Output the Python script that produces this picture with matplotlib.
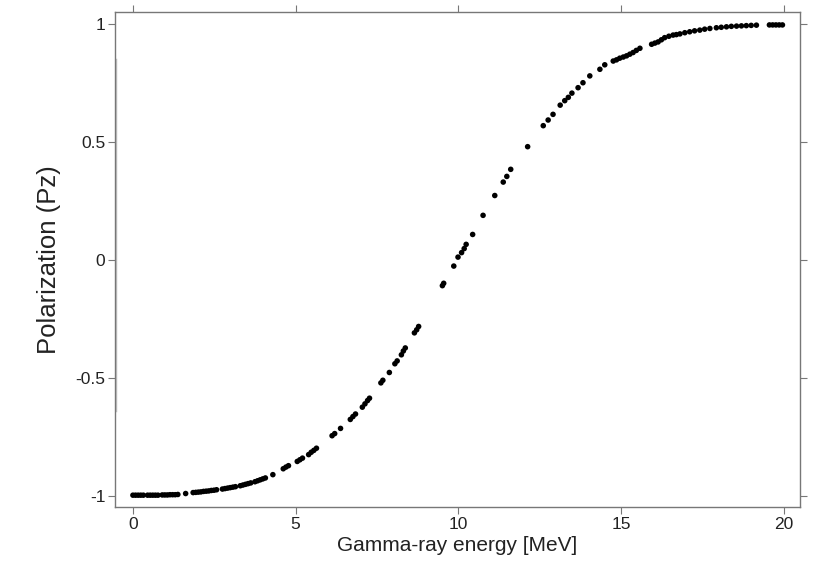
import matplotlib
matplotlib.use("Agg")
import matplotlib.pyplot as plt

plt.rcParams.update(
    {
        "font.family": ["Liberation Sans", "DejaVu Sans"],
        "font.size": 12,
    }
)

# Gamma-ray energy [MeV] and polarization Pz
energy = [
    0.00, 0.08, 0.16, 0.24, 0.32, 0.45, 0.53, 0.61, 0.69, 0.77,
    0.90, 0.98, 1.06, 1.14, 1.22, 1.30, 1.38, 1.62,
    1.85, 1.93, 2.01, 2.09, 2.17, 2.25, 2.33, 2.41, 2.49, 2.57,
    2.75, 2.83, 2.91, 2.99, 3.07, 3.15, 3.30, 3.38, 3.46, 3.54, 3.62,
    3.75, 3.83, 3.91, 3.99, 4.07, 4.30, 4.62, 4.70, 4.78,
    5.05, 5.13, 5.21, 5.40, 5.48, 5.56, 5.64, 6.12, 6.20, 6.38,
    6.68, 6.76, 6.84, 7.05, 7.13, 7.21, 7.27, 7.62, 7.68, 7.88,
    8.05, 8.12, 8.25, 8.31, 8.37, 8.65, 8.72, 8.78,
    9.51, 9.55, 9.86, 9.99, 10.10, 10.18, 10.24, 10.44, 10.76,
    11.12, 11.38, 11.49, 11.61, 12.13, 12.61, 12.76, 12.91,
    13.13, 13.27, 13.38, 13.49, 13.68, 13.83, 14.04, 14.35, 14.50,
    14.76, 14.86, 14.96, 15.07, 15.17, 15.27, 15.37, 15.47, 15.58,
    15.94, 16.04, 16.14, 16.24, 16.34, 16.47, 16.60, 16.70, 16.81,
    16.96, 17.11, 17.26, 17.42, 17.57, 17.73, 17.93, 18.08, 18.24,
    18.39, 18.55, 18.70, 18.85, 19.00, 19.16,
    19.56, 19.66, 19.76, 19.86, 19.96,
]
polarization = [
    -0.997, -0.997, -0.997, -0.997, -0.997, -0.997, -0.997, -0.997, -0.997, -0.997,
    -0.996, -0.996, -0.996, -0.995, -0.995, -0.995, -0.994, -0.990,
    -0.986, -0.985, -0.984, -0.983, -0.981, -0.980, -0.979, -0.977, -0.976, -0.974,
    -0.971, -0.969, -0.967, -0.965, -0.963, -0.961, -0.957, -0.954, -0.951, -0.948, -0.945,
    -0.940, -0.936, -0.932, -0.928, -0.924, -0.910, -0.885, -0.878, -0.872,
    -0.854, -0.847, -0.840, -0.825, -0.815, -0.807, -0.798, -0.745, -0.736, -0.714,
    -0.676, -0.664, -0.653, -0.624, -0.610, -0.596, -0.586, -0.521, -0.510, -0.477,
    -0.440, -0.428, -0.402, -0.386, -0.373, -0.309, -0.296, -0.282,
    -0.109, -0.099, -0.026, 0.012, 0.031, 0.048, 0.066, 0.108, 0.189,
    0.273, 0.330, 0.354, 0.384, 0.480, 0.569, 0.593, 0.617,
    0.656, 0.675, 0.689, 0.707, 0.730, 0.751, 0.780, 0.808, 0.827,
    0.843, 0.848, 0.855, 0.860, 0.865, 0.872, 0.879, 0.888, 0.897,
    0.914, 0.919, 0.924, 0.933, 0.942, 0.948, 0.953, 0.955, 0.958,
    0.963, 0.967, 0.971, 0.974, 0.978, 0.981, 0.984, 0.986, 0.988,
    0.990, 0.991, 0.992, 0.993, 0.994, 0.995,
    0.996, 0.996, 0.996, 0.996, 0.996,
]

x_ticks = [0, 5, 10, 15, 20]
y_ticks = [-1, -0.5, 0, 0.5, 1]
y_tick_labels = ["-1", "-0.5", "0", "0.5", "1"]

fig = plt.figure(figsize=(8.17, 5.69), dpi=100)
ax = fig.add_axes([0.1408, 0.109, 0.838, 0.870])

ax.scatter(energy, polarization, s=16, color="black", edgecolors="none", zorder=3)

ax.set_xlim(-0.55, 20.49)
ax.set_ylim(-1.047, 1.051)
ax.set_xticks(x_ticks)
ax.set_xticklabels([str(t) for t in x_ticks])
ax.set_yticks(y_ticks)
ax.set_yticklabels(y_tick_labels)

ax.tick_params(
    direction="out",
    length=5,
    width=0.8,
    color="#777777",
    labelcolor="#222222",
    labelsize=12.5,
    top=True,
    right=True,
    pad=2,
)
for side in ["top", "right", "left", "bottom"]:
    ax.spines[side].set_color("#777777")
    ax.spines[side].set_linewidth(1.0)

# faint scan artefact along left axis
ax.axvline(-0.55, ymin=0.196, ymax=0.903, color="#c4c4c4", lw=2.5, zorder=1)

ax.set_xlabel("Gamma-ray energy [MeV]", fontsize=15, color="#222222", labelpad=3)
ax.set_ylabel("Polarization (Pz)", fontsize=18.5, color="#222222", labelpad=10)

fig.savefig("out.png", dpi=100)
